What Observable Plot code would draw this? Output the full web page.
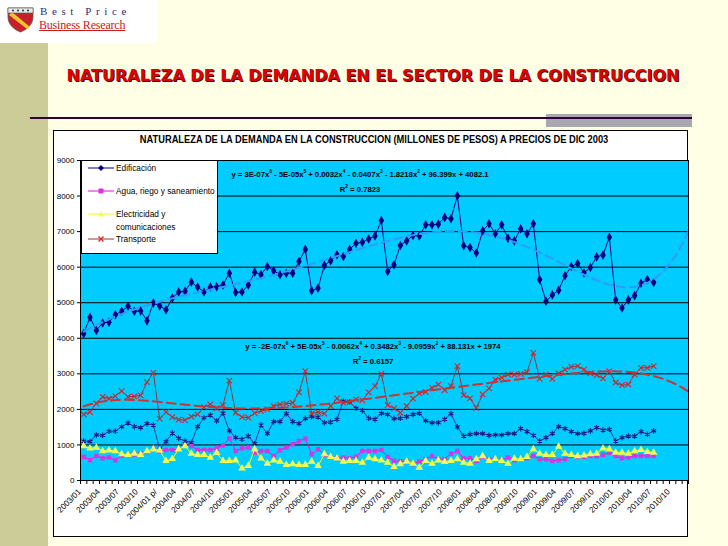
<!DOCTYPE html>
<html><head><meta charset="utf-8">
<script src="https://cdn.jsdelivr.net/npm/d3@7"></script>
<script src="https://cdn.jsdelivr.net/npm/@observablehq/plot@0.6"></script>
<style>
html,body{margin:0;padding:0;}
body{width:728px;height:546px;overflow:hidden;background:#FFFFE6;position:relative;font-family:"Liberation Sans",Arial,sans-serif;}
.abs{position:absolute;}
#logo{left:0;top:0;width:158px;height:43px;background:#fff;}
#band{left:0;top:43px;width:48px;height:503px;background:#CCCC99;}
#title{left:28px;width:690px;top:66px;text-align:center;font:bold 16px "DejaVu Sans",Verdana,sans-serif;color:#DD0000;text-shadow:1px 1px 0 #2a0000;white-space:nowrap;}
#gray{left:546px;top:114px;width:146px;height:13px;background:#A8A8B0;}
#rule{left:30px;top:117px;width:662px;height:2px;background:#330033;}
#box{left:53px;top:130px;width:633px;height:405px;background:#fff;border:1px solid #000;}
#ctitle{left:53px;width:635px;top:134px;text-align:center;font:bold 10px "Liberation Sans Narrow","Arial Narrow","Liberation Sans",sans-serif;white-space:nowrap;transform:scaleX(0.93);transform-origin:368px 0;}
#chart{left:53px;top:130px;}
#legend{left:81px;top:160px;width:135px;height:92px;background:#fff;border:1px solid #000;font:8.3px "Liberation Sans",Arial,sans-serif;}
.li{position:absolute;left:6px;height:12px;}
.li svg{position:absolute;left:0;top:0;}
.li span{position:absolute;left:28px;top:0;white-space:nowrap;line-height:12px;}
.eq{font:bold 8px "Liberation Sans Narrow","Arial Narrow","Liberation Sans",sans-serif;text-align:center;white-space:nowrap;transform:scaleX(0.96);}
.eq sup{font-size:5px;vertical-align:4px;line-height:0;}
</style></head>
<body>
<div id="logo" class="abs">
  <svg class="abs" style="left:6px;top:7px" width="30" height="26" viewBox="0 0 30 26">
    <path d="M2 1 H27 V10 C27 18 20 23 14.5 25 C9 23 2 18 2 10 Z" fill="#C8202A" stroke="#555" stroke-width="0.8"/>
    <path d="M6 5 L24 20 L21 22 L3 8 Z" fill="#F2C230"/>
    <rect x="2" y="1" width="25" height="5" fill="#E8E8E8" stroke="#555" stroke-width="0.6"/>
    <circle cx="7" cy="3.5" r="1" fill="#333"/><circle cx="12" cy="3.5" r="1" fill="#333"/><circle cx="17" cy="3.5" r="1" fill="#333"/><circle cx="22" cy="3.5" r="1" fill="#333"/>
  </svg>
  <div class="abs" style="left:40px;top:5px;font:11px/13px 'Liberation Serif','Times New Roman',serif;color:#2B2B80;letter-spacing:4.6px;white-space:nowrap;">Best Price</div>
  <div class="abs" style="left:39px;top:18px;font:12px/14px 'Liberation Serif','Times New Roman',serif;color:#C82020;text-decoration:underline;white-space:nowrap;letter-spacing:-0.2px">Business Research</div>
</div>
<div id="band" class="abs"></div>
<div id="title" class="abs">NATURALEZA DE LA DEMANDA EN EL SECTOR DE LA CONSTRUCCION</div>
<div id="gray" class="abs"></div>
<div id="rule" class="abs"></div>
<div id="box" class="abs"></div>
<div id="chart" class="abs"></div>
<div id="ctitle" class="abs">NATURALEZA DE LA DEMANDA EN LA CONSTRUCCION (MILLONES DE PESOS) A PRECIOS DE DIC 2003</div>
<div id="legend" class="abs">
  <div class="li" style="top:1px"><svg width="26" height="12"><line x1="0" y1="6" x2="26" y2="6" stroke="#000080"/><path d="M13 3 L16 6 L13 9 L10 6Z" fill="#000080"/></svg><span>Edificación</span></div>
  <div class="li" style="top:24px"><svg width="26" height="12"><line x1="0" y1="6" x2="26" y2="6" stroke="#FF00FF"/><rect x="10.5" y="3.5" width="5" height="5" fill="#DD33DD"/></svg><span>Agua, riego y saneamiento</span></div>
  <div class="li" style="top:47px"><svg width="26" height="12"><line x1="0" y1="6" x2="26" y2="6" stroke="#FFFF00"/><path d="M13 3 L16 8.5 L10 8.5Z" fill="#EEFF55"/></svg><span>Electricidad y</span></div>
  <div class="li" style="top:60px"><span>comunicaciones</span></div>
  <div class="li" style="top:72px"><svg width="26" height="12"><line x1="0" y1="6" x2="26" y2="6" stroke="#993333"/><path d="M10.5 3.5 L15.5 8.5 M15.5 3.5 L10.5 8.5" stroke="#DD2222" stroke-width="1.2"/></svg><span>Transporte</span></div>
</div>
<div class="abs eq" style="left:180px;width:360px;top:170px">y = 3E-07x<sup>6</sup> - 5E-05x<sup>5</sup> + 0.0032x<sup>4</sup> - 0.0407x<sup>3</sup> - 1.8218x<sup>2</sup> + 96.399x + 4082.1</div>
<div class="abs eq" style="left:180px;width:360px;top:185px">R<sup>2</sup> = 0.7823</div>
<div class="abs eq" style="left:193px;width:360px;top:342px">y = -2E-07x<sup>6</sup> + 5E-05x<sup>5</sup> - 0.0062x<sup>4</sup> + 0.3482x<sup>3</sup> - 9.0959x<sup>2</sup> + 88.131x + 1974</div>
<div class="abs eq" style="left:193px;width:360px;top:357px">R<sup>2</sup> = 0.6157</div>
<script>
// Monthly values, 2003/01 .. 2010/07 (millones de pesos, precios dic 2003)
const edificacion = [4130,4590,4220,4430,4450,4660,4760,4900,4760,4770,
 4490,4990,4910,4800,5130,5300,5320,5580,5440,5300,
 5440,5450,5500,5830,5290,5300,5500,5860,5790,6020,
 5900,5790,5830,5830,6160,6500,5340,5410,6050,6180,
 6350,6300,6500,6670,6700,6790,6880,7310,5880,6070,
 6610,6740,6890,6880,7190,7190,7210,7400,7360,8010,
 6600,6550,6400,7020,7220,6940,7190,6810,6740,7080,
 6940,7220,5650,5040,5220,5350,5760,6020,6100,5840,
 5990,6290,6340,6840,5080,4850,5080,5200,5550,5650,5570];
const agua = [665,570,690,625,645,570,700,720,730,760,
 800,900,830,860,860,880,990,970,860,860,
 860,900,990,1185,830,905,925,785,830,830,
 690,850,925,1020,1110,1180,740,880,720,665,
 625,645,625,665,830,830,830,860,665,550,
 535,535,460,535,600,690,600,600,755,830,
 625,625,550,665,600,600,570,645,570,600,
 625,690,600,600,550,570,600,690,665,665,
 690,690,720,785,690,625,645,690,690,690,690];
const electricidad = [970,905,925,830,850,830,740,720,755,720,
 830,880,850,550,610,880,970,755,720,720,
 645,775,550,550,570,345,410,880,625,475,
 570,535,440,460,440,440,535,410,740,665,
 625,535,550,550,505,645,600,570,505,385,
 460,535,475,365,550,475,570,525,550,600,
 505,475,600,690,550,600,550,475,615,600,
 665,880,755,720,720,955,755,720,690,710,
 740,755,905,880,785,785,755,830,860,805,785];
const transporte = [1860,1925,2170,2355,2300,2375,2515,2355,2365,2395,
 2765,3030,1740,1925,1785,1710,1700,1795,1860,2065,
 2140,2030,2120,2810,1905,1785,1765,1895,1955,2000,
 2095,2140,2160,2180,2480,3075,1880,1925,1880,2095,
 2310,2190,2205,2280,2250,2480,2655,3000,2120,2030,
 1905,2095,2300,2450,2495,2605,2700,2540,2655,3215,
 2400,2310,2045,2420,2590,2840,2890,2980,2980,3000,
 3045,3590,2860,2980,2860,3010,3120,3195,3215,3120,
 3010,2965,2870,3075,2750,2680,2700,2980,3170,3170,3215];
const otros = [1110,1095,1280,1270,1385,1385,1515,1615,1515,1485,
 1600,1560,880,1095,1335,1185,1110,1065,1515,1765,
 1840,1675,1895,1395,1205,1160,1250,1035,1560,1320,
 1655,1655,1880,1655,1600,1740,1795,1785,1625,1645,
 1720,2235,2215,2030,1970,1750,1720,1890,1860,1740,
 1750,1795,1860,1890,1675,1625,1625,1720,1880,1505,
 1250,1300,1320,1320,1270,1280,1280,1320,1320,1460,
 1375,1270,1110,1205,1320,1515,1460,1375,1320,1325,
 1395,1485,1420,1440,1110,1205,1250,1250,1375,1300,1395];
const tickLabels = ["2003/01","2003/04","2003/07","2003/10","2004/01 p/","2004/04","2004/07","2004/10",
 "2005/01","2005/04","2005/07","2005/10","2006/01","2006/04","2006/07","2006/10",
 "2007/01","2007/04","2007/07","2007/10","2008/01","2008/04","2008/07","2008/10",
 "2009/01","2009/04","2009/07","2009/10","2010/01","2010/04","2010/07","2010/10"];
const yTicks = [0,1000,2000,3000,4000,5000,6000,7000,8000,9000];
const nCategories = 96;

const rows = arr => arr.map((v, i) => ({u: i + 0.5, v}));

// least squares polynomial (Excel-style trend, x = 1..n), extended to the end of the axis
function polyTrend(ys, deg) {
  const n = ys.length, m = (n + 1) / 2, s = (n - 1) / 2, N = deg + 1;
  const A = Array.from({length: N}, () => new Array(N + 1).fill(0));
  ys.forEach((y, k) => {
    const t = (k + 1 - m) / s;
    const p = d3.range(N).map(j => t ** j);
    for (let r = 0; r < N; r++) { for (let c = 0; c < N; c++) A[r][c] += p[r] * p[c]; A[r][N] += p[r] * y; }
  });
  for (let c = 0; c < N; c++) {
    let piv = c;
    for (let r = c + 1; r < N; r++) if (Math.abs(A[r][c]) > Math.abs(A[piv][c])) piv = r;
    [A[c], A[piv]] = [A[piv], A[c]];
    for (let r = 0; r < N; r++) { if (r === c) continue; const f = A[r][c] / A[c][c]; for (let j = c; j <= N; j++) A[r][j] -= f * A[c][j]; }
  }
  const coef = A.map((row, i) => row[N] / row[i]);
  const f = x => { const t = (x - m) / s; return coef.reduce((a, c, j) => a + c * t ** j, 0); };
  return d3.range(1, nCategories + 0.5 + 0.001, 0.25).map(x => ({u: x - 0.5, v: f(x)}));
}

const series = [
  {data: edificacion, stroke: "#000080", mark: "#000080", symbol: "diamond", r: 2.9, filled: true},
  {data: otros, stroke: "#333399", mark: "#1a1a80", symbol: "asterisk", r: 2.6, filled: false},
  {data: agua, stroke: "#FF00FF", mark: "#DD33DD", symbol: "square", r: 2.5, filled: true},
  {data: electricidad, stroke: "#FFFF00", mark: "#EEFF55", symbol: "triangle", r: 2.8, filled: true},
  {data: transporte, stroke: "#993333", mark: "#DD2222", symbol: "times", r: 2.6, filled: false}
];

const marks = [
  Plot.frame({fill: "#00CCFF"}),
  Plot.gridY(yTicks, {stroke: "#000", strokeOpacity: 1, strokeWidth: 1})
];
for (const s of series) {
  marks.push(Plot.line(rows(s.data), {x: "u", y: "v", stroke: s.stroke, strokeWidth: 1}));
  marks.push(Plot.dot(rows(s.data), s.filled
    ? {x: "u", y: "v", symbol: s.symbol, r: s.r, fill: s.mark, stroke: "none"}
    : {x: "u", y: "v", symbol: s.symbol, r: s.r, stroke: s.mark, strokeWidth: 1.1, fill: "none"}));
}
marks.push(
  Plot.line(polyTrend(edificacion, 6), {x: "u", y: "v", stroke: "#3399FF", strokeWidth: 2, strokeDasharray: "8,5", clip: true}),
  Plot.line(polyTrend(transporte, 6), {x: "u", y: "v", stroke: "#CC3333", strokeWidth: 2, strokeDasharray: "9,5", clip: true}),
  Plot.frame({stroke: "#000", strokeWidth: 1}),
  Plot.axisY(yTicks, {tickSize: 3, tickPadding: 3, tickFormat: d3.format("d"), fontSize: 8, label: null}),
  Plot.axisX(d3.range(0, nCategories + 1), {tickSize: 4, tickFormat: () => "", label: null}),
  Plot.text(tickLabels.map((label, k) => ({label, u: k * 3 + 0.5})), {
    x: "u", y: 0, text: "label", rotate: -45, textAnchor: "end", lineAnchor: "middle",
    dx: -4, dy: 10, fontSize: 8.2, fill: "#000"
  })
);

const chart = Plot.plot({
  width: 635, height: 407,
  marginLeft: 27, marginRight: 0, marginTop: 30, marginBottom: 57,
  style: {background: "transparent", fontFamily: "'Liberation Sans', Arial, sans-serif", fontSize: "8px", overflow: "visible", color: "#000"},
  x: {domain: [0, nCategories], axis: null, label: null},
  y: {domain: [0, 9000], axis: null, label: null},
  marks
});
document.getElementById("chart").appendChild(chart);
</script>
</body></html>
